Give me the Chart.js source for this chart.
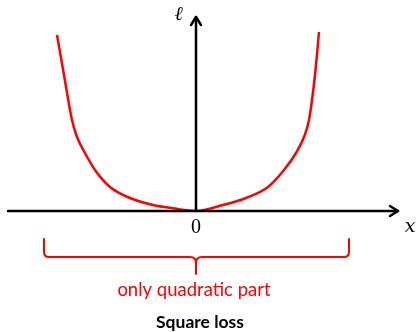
<!DOCTYPE html>
<html>
<head>
<meta charset="utf-8">
<script src="https://cdn.jsdelivr.net/npm/chart.js@4"></script>
<style>
    html, body { margin: 0; padding: 0; background: #fff; }
    #wrap { width: 417px; height: 332px; }
</style>
</head>
<body>
<div id="wrap"><canvas id="loss-chart" width="417" height="332"></canvas></div>
<script>
// Curve (x, loss), arbitrary units
const curveX = [-13.9, -13.2, -12.4, -11.9, -11.1, -10.1, -8.6, -6.6, -4.3, -2.3, 0,
                2.7, 5.0, 7.2, 8.8, 10.0, 10.8, 11.3, 11.9, 12.3];
const curveY = [17.6, 13.6, 9.1, 7.4, 5.8, 4.1, 2.4, 1.3, 0.6, 0.27, 0,
                0.6, 1.3, 2.4, 4.1, 5.8, 7.4, 9.1, 13.6, 17.9];
const xRange = [-18.8, 20.2];
const yRange = [0, 19.4];
const braceRange = [-15.2, 15.3];
const braceLabel = 'only quadratic part';
const chartTitle = 'Square loss';
const tickLabel = '0';

// Axes with arrows, labels and the brace underneath
const decorations = {
    id: 'decorations',
    afterDatasetsDraw(chart) {
        const ctx = chart.ctx;
        const xs = chart.scales.x, ys = chart.scales.y;
        const area = chart.chartArea;
        const ox = xs.getPixelForValue(0);
        const oy = ys.getPixelForValue(0);

        ctx.save();
        ctx.strokeStyle = '#000';
        ctx.lineWidth = 2.5;
        ctx.lineCap = 'round';
        ctx.lineJoin = 'round';

        // x axis
        ctx.beginPath();
        ctx.moveTo(area.left, oy);
        ctx.lineTo(area.right, oy);
        ctx.stroke();
        ctx.beginPath();
        ctx.moveTo(area.right - 8, oy - 5);
        ctx.lineTo(area.right, oy);
        ctx.lineTo(area.right - 8, oy + 5);
        ctx.stroke();

        // y axis
        ctx.beginPath();
        ctx.moveTo(ox, oy);
        ctx.lineTo(ox, area.top);
        ctx.stroke();
        ctx.beginPath();
        ctx.moveTo(ox - 5, area.top + 8);
        ctx.lineTo(ox, area.top);
        ctx.lineTo(ox + 5, area.top + 8);
        ctx.stroke();

        // axis labels
        ctx.fillStyle = '#000';
        ctx.textAlign = 'center';
        ctx.textBaseline = 'middle';
        ctx.font = 'italic bold 20px "DejaVu Serif"';
        ctx.fillText('\u2113', ox - 17, area.top - 2);
        ctx.font = 'italic 19px "DejaVu Serif"';
        ctx.fillText('x', area.right + 12, oy + 16);
        ctx.font = '20px "Liberation Serif"';
        ctx.fillText(tickLabel, ox, oy + 17);

        // brace
        const bl = xs.getPixelForValue(braceRange[0]);
        const br = xs.getPixelForValue(braceRange[1]);
        const top = oy + 28, mid = oy + 46, tip = oy + 63;
        ctx.strokeStyle = '#ff0000';
        ctx.lineWidth = 2;
        ctx.beginPath();
        ctx.moveTo(bl, top);
        ctx.lineTo(bl, mid - 5);
        ctx.quadraticCurveTo(bl, mid, bl + 5, mid);
        ctx.lineTo(ox - 6, mid);
        ctx.quadraticCurveTo(ox, mid, ox, mid + 6);
        ctx.lineTo(ox, tip);
        ctx.moveTo(ox, mid + 6);
        ctx.quadraticCurveTo(ox, mid, ox + 6, mid);
        ctx.lineTo(br - 5, mid);
        ctx.quadraticCurveTo(br, mid, br, mid - 5);
        ctx.lineTo(br, top);
        ctx.stroke();

        // texts
        ctx.fillStyle = '#ff0000';
        ctx.font = '18.5px Lato';
        ctx.fillText(braceLabel, ox - 2, oy + 79);
        ctx.fillStyle = '#000';
        ctx.font = 'bold 17.5px Lato';
        ctx.fillText(chartTitle, ox + 4, oy + 111);
        ctx.restore();
    }
};

new Chart(document.getElementById('loss-chart'), {
    type: 'line',
    data: {
        datasets: [{
            data: curveX.map((x, i) => ({ x: x, y: curveY[i] })),
            borderColor: '#ff0000',
            borderWidth: 2.5,
            pointRadius: 0,
            cubicInterpolationMode: 'monotone',
            fill: false
        }]
    },
    options: {
        responsive: false,
        animation: false,
        layout: { padding: { left: 8, right: 19, top: 17, bottom: 121 } },
        plugins: {
            legend: { display: false },
            tooltip: { enabled: false }
        },
        scales: {
            x: { type: 'linear', min: xRange[0], max: xRange[1], display: false },
            y: { type: 'linear', min: yRange[0], max: yRange[1], display: false }
        }
    },
    plugins: [decorations]
});
</script>
</body>
</html>
